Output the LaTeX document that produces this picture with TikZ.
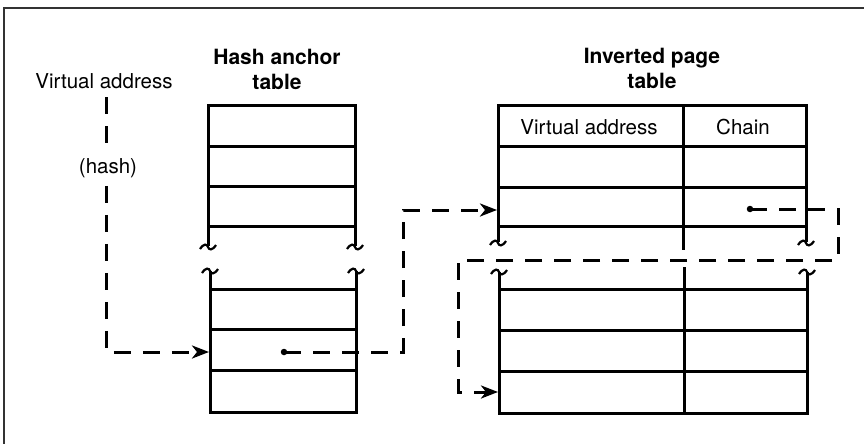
\documentclass[tikz,border=0pt]{standalone}
\usepackage{fontspec}
\setmainfont{TeX Gyre Heros}
\usetikzlibrary{arrows.meta}
\tikzset{
  pics/brkmark/.style={code={\draw[line width=2.2pt] (-8,2) .. controls (-4,-4) and (-1,-3) .. (0,0) .. controls (1,3) and (4,4) .. (8,-2);}},
}
\begin{document}
\begin{tikzpicture}[x=1pt,y=-1pt,
  tbl/.style={line width=3pt, black},
  dashline/.style={line width=3pt, dash pattern=on 17pt off 12pt},
  lbl/.style={font=\fontsize{20.5}{24}\selectfont, inner sep=0pt},
  ttl/.style={font=\fontsize{21}{25}\selectfont\bfseries, align=center, inner sep=0pt},
  tip/.style={-{Stealth[length=17pt,width=13pt,inset=5pt]}},
  dotstart/.style={fill, circle, inner sep=0pt, minimum size=6.5pt}
]
\useasboundingbox (0,0) rectangle (864,444);
% frame
\draw[line width=2.4pt, black!80] (4,444) -- (4,8) -- (864,8);

% titles
\node[ttl] (hat) at (277,69) {Hash anchor\\table};
\node[ttl] (ipt) at (652,68) {Inverted page\\table};

% hash anchor table
\draw[tbl] (208,246) -- (208,105) -- (355,105) -- (355,246);
\foreach \y in {146,186,226} \draw[tbl] (208,\y) -- (355,\y);
\pic at (208,247) {brkmark};
\pic at (355,247) {brkmark};
\pic at (210,271) {brkmark};
\pic at (356,271) {brkmark};
\draw[tbl] (210,271) -- (210,412) -- (356,412) -- (356,271);
\foreach \y in {289,329,370} \draw[tbl] (210,\y) -- (356,\y);

% inverted page table
\draw[tbl] (498,242) -- (498,105) -- (806,105) -- (806,242);
\draw[tbl] (683,105) -- (683,250);
\foreach \y in {146,187,226} \draw[tbl] (498,\y) -- (806,\y);
\pic at (498,243) {brkmark};
\pic at (806,243) {brkmark};
\pic at (499,272) {brkmark};
\pic at (807,272) {brkmark};
\draw[tbl] (499,272) -- (499,413) -- (807,413) -- (807,272);
\draw[tbl] (684,267) -- (684,413);
\foreach \y in {289,330,371} \draw[tbl] (499,\y) -- (807,\y);
\node[lbl] (hva) at (589,127) {Virtual address};
\node[lbl] (hch) at (743,127) {Chain};

% labels
\node[lbl] (va) at (104,81) {Virtual address};
\node[lbl] (hash) at (108,168) {(hash)};

% coordinates for connectors
\coordinate (vatop) at (106,97);
\coordinate (vacorner) at (106,352);
\coordinate (hatrow) at (209,352);
\coordinate (hatptr) at (284,352);
\coordinate (hcorner1) at (403,352);
\coordinate (hcorner2) at (403,210);
\coordinate (iptrow) at (497,210);
\coordinate (chptr) at (750,209);
\coordinate (ccorner1) at (838,209);
\coordinate (ccorner2) at (838,260);
\coordinate (ccorner3) at (458,260);
\coordinate (ccorner4) at (458,392);
\coordinate (iptlast) at (498,392);

% connectors
\draw[dashline] (vatop) -- ([yshift=7pt]hash.north -| vatop);
\draw[dashline, tip] ([yshift=-8pt]hash.south -| vatop) -- (vacorner) -- (hatrow);
\node[dotstart] (d1) at (hatptr) {};
\draw[dashline, tip] (hatptr) -- (hcorner1) -- (hcorner2) -- (iptrow);
\node[dotstart] (d2) at (chptr) {};
\draw[dashline, tip] (chptr) -- (ccorner1) -- (ccorner2) -- (ccorner3) -- (ccorner4) -- (iptlast);
\end{tikzpicture}
\end{document}
